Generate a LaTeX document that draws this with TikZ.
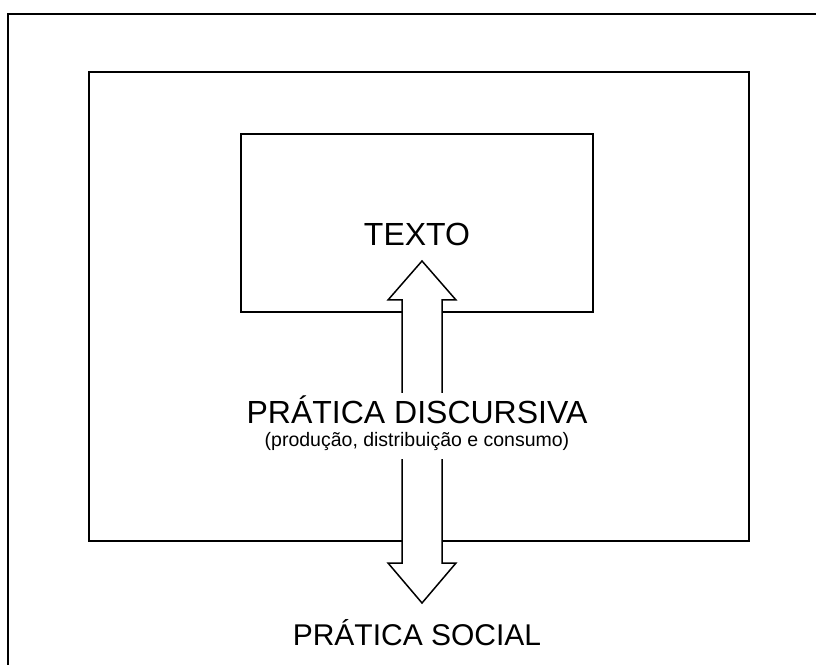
\documentclass[tikz,border=0pt]{standalone}
\usepackage{fontspec}
\setmainfont{Liberation Sans}
\begin{document}
\begin{tikzpicture}[x=1pt,y=1pt]
	\useasboundingbox (0,0) rectangle (816,664) ;
	\clip (0,0) rectangle (816,664) ;
	\coordinate (F) at (8,650) ;
	\coordinate (M1) at (89,592) ;
	\coordinate (M2) at (749,123) ;
	\coordinate (T1) at (241,530) ;
	\coordinate (T2) at (593,352) ;
	\coordinate (N) at (422,403) ;
	\coordinate (S) at (422,61) ;
	\draw[line width=2pt] (830,650)--(F)--(8,-10) ;
	\draw[line width=1.5pt] (M1) rectangle (M2) (T1) rectangle (T2) ;
	\draw[line width=1.5pt,fill=white,line join=miter] (N)--++(34,-39)--++(-14,0)--++(0,-263)--++(14,0)
	--(S)--++(-34,40)--++(14,0)--++(0,263)--++(-14,0)--cycle ;
	\node[font=\fontsize{32}{38}\selectfont] (texto) at (417,430) {TEXTO} ;
	\node[font=\fontsize{19.5}{24}\selectfont,fill=white,inner ysep=8pt] (sub) at (417,222) {(produção, distribuição e consumo)} ;
	\node[font=\fontsize{32}{38}\selectfont,fill=white] (disc) at (417,254) {PRÁTICA DISCURSIVA} ;
	\node[font=\fontsize{30}{36}\selectfont] (social) at (417,31) {PRÁTICA SOCIAL} ;
\end{tikzpicture}
\end{document}
